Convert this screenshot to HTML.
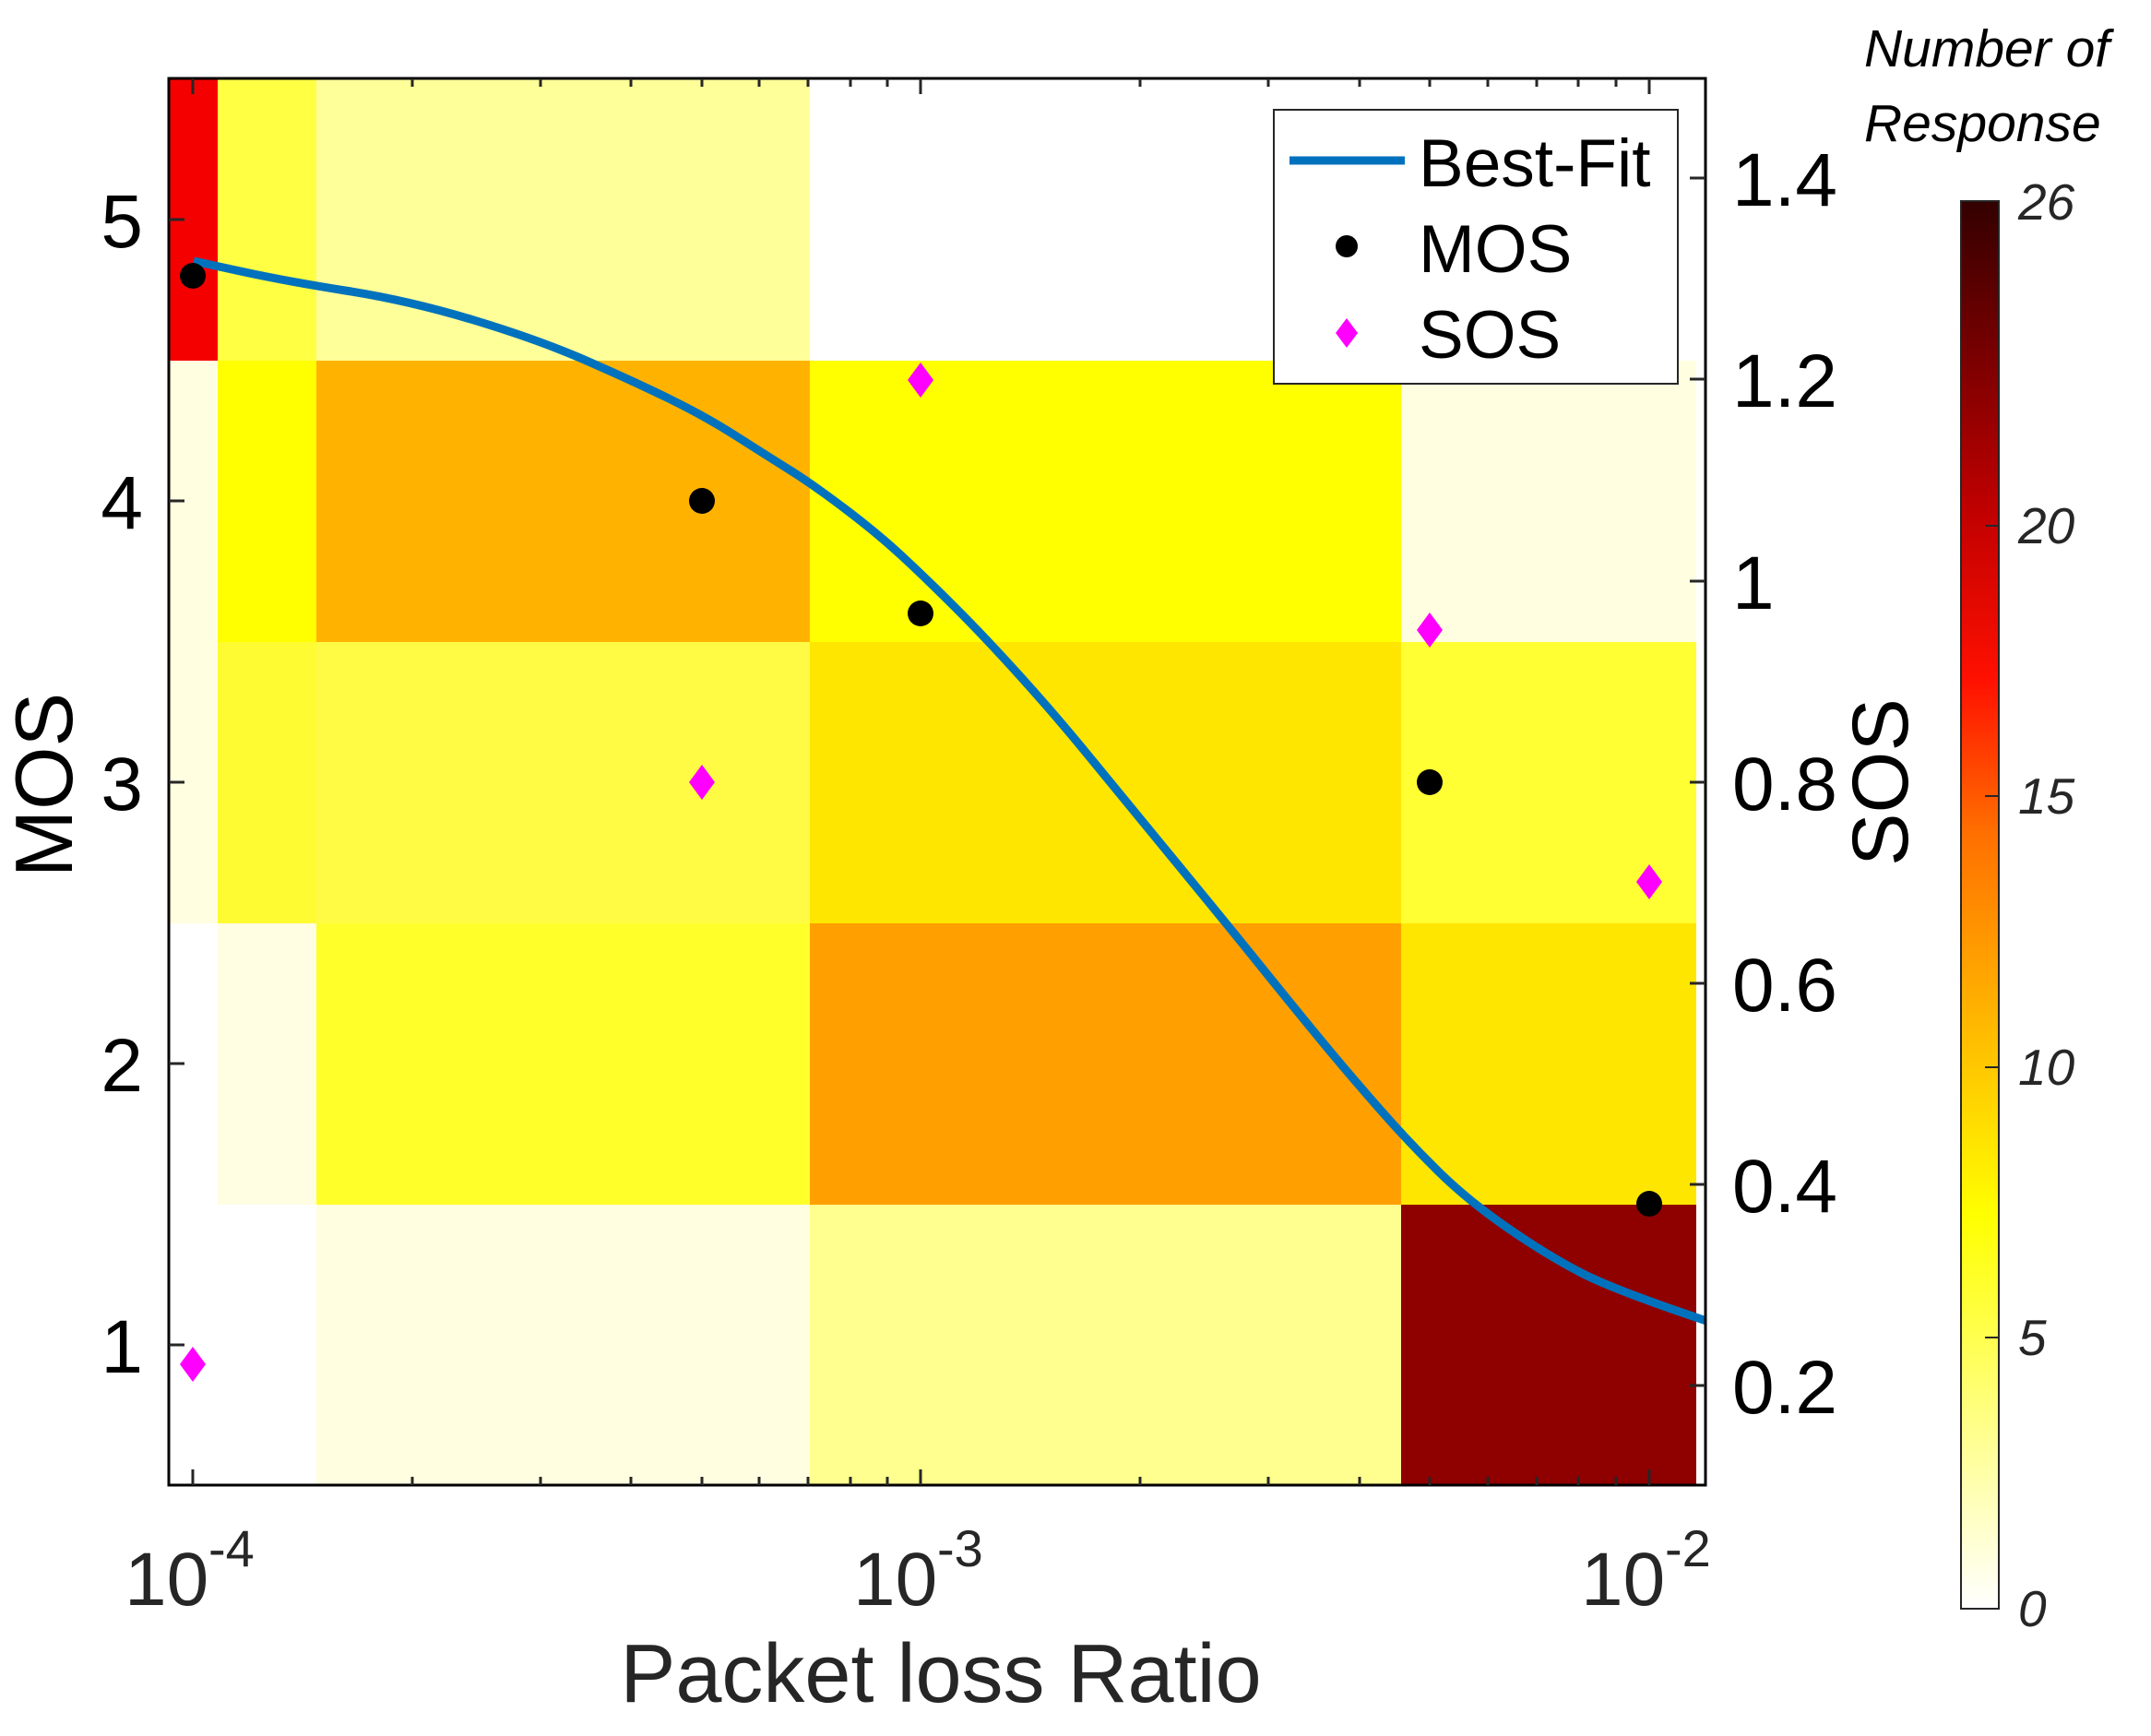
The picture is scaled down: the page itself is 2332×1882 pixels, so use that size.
<!DOCTYPE html>
<html><head><meta charset="utf-8"><style>html,body{margin:0;padding:0;background:#fff}svg{display:block}</style></head>
<body>
<svg width="2332" height="1882" viewBox="0 0 2332 1882" xmlns="http://www.w3.org/2000/svg" font-family="Liberation Sans, Arial, sans-serif">
<defs>
<linearGradient id="cb" x1="0" y1="1" x2="0" y2="0">
<stop offset="0" stop-color="#ffffff"/>
<stop offset="0.28" stop-color="#ffff00"/>
<stop offset="0.40" stop-color="#ffc000"/>
<stop offset="0.55" stop-color="#ff7000"/>
<stop offset="0.66" stop-color="#ff1000"/>
<stop offset="0.78" stop-color="#c00000"/>
<stop offset="1" stop-color="#330000"/>
</linearGradient>
<clipPath id="pc"><rect x="183" y="85" width="1666" height="1525"/></clipPath>
</defs>
<g shape-rendering="crispEdges">
<rect x="183" y="85" width="53" height="306" fill="#f40000"/>
<rect x="183" y="391" width="53" height="305" fill="#fffee0"/>
<rect x="183" y="696" width="53" height="305" fill="#fffee0"/>
<rect x="236" y="85" width="107" height="306" fill="#ffff44"/>
<rect x="236" y="391" width="107" height="305" fill="#ffff00"/>
<rect x="236" y="696" width="107" height="305" fill="#fffb33"/>
<rect x="236" y="1001" width="107" height="305" fill="#fffde2"/>
<rect x="343" y="85" width="535" height="306" fill="#ffff99"/>
<rect x="343" y="391" width="535" height="305" fill="#ffb300"/>
<rect x="343" y="696" width="535" height="305" fill="#fffb44"/>
<rect x="343" y="1001" width="535" height="305" fill="#ffff2a"/>
<rect x="343" y="1306" width="535" height="304" fill="#fffee0"/>
<rect x="878" y="391" width="641" height="305" fill="#ffff00"/>
<rect x="878" y="696" width="641" height="305" fill="#ffe600"/>
<rect x="878" y="1001" width="641" height="305" fill="#ffa000"/>
<rect x="878" y="1306" width="641" height="304" fill="#ffff8f"/>
<rect x="1519" y="391" width="320" height="305" fill="#fffee0"/>
<rect x="1519" y="696" width="320" height="305" fill="#ffff33"/>
<rect x="1519" y="1001" width="320" height="305" fill="#ffe600"/>
<rect x="1519" y="1306" width="320" height="304" fill="#8f0000"/>
</g>
<path clip-path="url(#pc)" fill="none" stroke="#0072bd" stroke-width="9" stroke-linejoin="round"
d="M210,283 L260.5,294 Q311,305 377.5,315.5 Q444,326 513.5,347 Q583,368 633.5,390 Q684,412 724,431.5 Q764,451 798.5,473 Q833,495 857,510 Q881,525 916,551.5 Q951,578 977.5,602.5 Q1004,627 1036,659 Q1068,691 1105.5,732.5 Q1143,774 1175,813 Q1207,852 1239,891 Q1271,930 1303,969 Q1335,1008 1372.5,1054.5 Q1410,1101 1436.5,1133 Q1463,1165 1495,1201.5 Q1527,1238 1559,1269.5 Q1591,1301 1633.5,1330.5 Q1676,1360 1713.5,1379.5 Q1751,1399 1853,1433"/>
<g fill="#000">
<circle cx="209" cy="299" r="14"/>
<circle cx="761" cy="543" r="14"/>
<circle cx="998" cy="665" r="14"/>
<circle cx="1550" cy="848" r="14"/>
<circle cx="1788" cy="1305" r="14"/>
</g>
<g fill="#ff00ff">
<path d="M209,1460 l14,19 l-14,19 l-14,-19z"/>
<path d="M761,829 l14,19 l-14,19 l-14,-19z"/>
<path d="M998,393 l14,19 l-14,19 l-14,-19z"/>
<path d="M1550,664 l14,19 l-14,19 l-14,-19z"/>
<path d="M1788,937 l14,19 l-14,19 l-14,-19z"/>
</g>
<rect x="183" y="85" width="1666" height="1525" fill="none" stroke="#000" stroke-width="3"/>
<g stroke="#262626" stroke-width="3">
<line x1="209" y1="1610" x2="209" y2="1593"/><line x1="209" y1="85" x2="209" y2="102"/>
<line x1="998" y1="1610" x2="998" y2="1593"/><line x1="998" y1="85" x2="998" y2="102"/>
<line x1="1788" y1="1610" x2="1788" y2="1593"/><line x1="1788" y1="85" x2="1788" y2="102"/>
<line x1="447" y1="1610" x2="447" y2="1601"/><line x1="586" y1="1610" x2="586" y2="1601"/><line x1="684" y1="1610" x2="684" y2="1601"/><line x1="761" y1="1610" x2="761" y2="1601"/><line x1="823" y1="1610" x2="823" y2="1601"/><line x1="876" y1="1610" x2="876" y2="1601"/><line x1="922" y1="1610" x2="922" y2="1601"/><line x1="962" y1="1610" x2="962" y2="1601"/>
<line x1="1236" y1="1610" x2="1236" y2="1601"/><line x1="1375" y1="1610" x2="1375" y2="1601"/><line x1="1474" y1="1610" x2="1474" y2="1601"/><line x1="1550" y1="1610" x2="1550" y2="1601"/><line x1="1613" y1="1610" x2="1613" y2="1601"/><line x1="1666" y1="1610" x2="1666" y2="1601"/><line x1="1711" y1="1610" x2="1711" y2="1601"/><line x1="1752" y1="1610" x2="1752" y2="1601"/>
<line x1="447" y1="85" x2="447" y2="94"/><line x1="586" y1="85" x2="586" y2="94"/><line x1="684" y1="85" x2="684" y2="94"/><line x1="761" y1="85" x2="761" y2="94"/><line x1="823" y1="85" x2="823" y2="94"/><line x1="876" y1="85" x2="876" y2="94"/><line x1="922" y1="85" x2="922" y2="94"/><line x1="962" y1="85" x2="962" y2="94"/>
<line x1="1236" y1="85" x2="1236" y2="94"/><line x1="1375" y1="85" x2="1375" y2="94"/><line x1="1474" y1="85" x2="1474" y2="94"/><line x1="1550" y1="85" x2="1550" y2="94"/><line x1="1613" y1="85" x2="1613" y2="94"/><line x1="1666" y1="85" x2="1666" y2="94"/><line x1="1711" y1="85" x2="1711" y2="94"/><line x1="1752" y1="85" x2="1752" y2="94"/>
<line x1="183" y1="238" x2="200" y2="238"/><line x1="183" y1="543" x2="200" y2="543"/><line x1="183" y1="848" x2="200" y2="848"/><line x1="183" y1="1153" x2="200" y2="1153"/><line x1="183" y1="1458" x2="200" y2="1458"/>
<line x1="1849" y1="193" x2="1832" y2="193"/><line x1="1849" y1="411" x2="1832" y2="411"/><line x1="1849" y1="630" x2="1832" y2="630"/><line x1="1849" y1="848" x2="1832" y2="848"/><line x1="1849" y1="1066" x2="1832" y2="1066"/><line x1="1849" y1="1284" x2="1832" y2="1284"/><line x1="1849" y1="1502" x2="1832" y2="1502"/>
</g>
<g font-size="82" fill="#000" text-anchor="end">
<text x="155" y="268">5</text><text x="155" y="573">4</text><text x="155" y="878">3</text><text x="155" y="1183">2</text><text x="155" y="1488">1</text>
</g>
<g font-size="82" fill="#000">
<text x="1878" y="223">1.4</text><text x="1878" y="441">1.2</text><text x="1878" y="660">1</text><text x="1878" y="878">0.8</text><text x="1878" y="1096">0.6</text><text x="1878" y="1314">0.4</text><text x="1878" y="1532">0.2</text>
</g>
<g font-size="82" fill="#262626">
<text x="135" y="1740">10</text><text x="226" y="1698" font-size="56">-4</text>
<text x="925" y="1740">10</text><text x="1016" y="1698" font-size="56">-3</text>
<text x="1714" y="1740">10</text><text x="1805" y="1698" font-size="56">-2</text>
</g>
<text x="1020" y="1845" font-size="90" fill="#262626" text-anchor="middle">Packet loss Ratio</text>
<text transform="translate(78,851) rotate(-90)" font-size="88" fill="#000" text-anchor="middle">MOS</text>
<text transform="translate(2068,848) rotate(-90)" font-size="86" fill="#000" text-anchor="middle">SOS</text>
<rect x="1381" y="119" width="438" height="297" fill="#fff" stroke="#262626" stroke-width="2"/>
<line x1="1398" y1="174" x2="1523" y2="174" stroke="#0072bd" stroke-width="9"/>
<circle cx="1460" cy="267" r="12" fill="#000"/>
<path d="M1460,345 l12,16 l-12,16 l-12,-16z" fill="#ff00ff"/>
<g font-size="73" fill="#000">
<text x="1538" y="202">Best-Fit</text>
<text x="1538" y="295">MOS</text>
<text x="1538" y="388">SOS</text>
</g>
<rect x="2126" y="218" width="41" height="1526" fill="url(#cb)" stroke="#262626" stroke-width="2"/>
<g stroke="#262626" stroke-width="2">
<line x1="2152" y1="1450" x2="2167" y2="1450"/><line x1="2152" y1="1157" x2="2167" y2="1157"/><line x1="2152" y1="863" x2="2167" y2="863"/><line x1="2152" y1="570" x2="2167" y2="570"/>
</g>
<g font-size="55" font-style="italic" fill="#262626">
<text x="2188" y="238">26</text>
<text x="2188" y="589">20</text>
<text x="2188" y="882">15</text>
<text x="2188" y="1176">10</text>
<text x="2188" y="1469">5</text>
<text x="2188" y="1763">0</text>
</g>
<g font-size="57" font-style="italic" fill="#000">
<text x="2021" y="72">Number of</text>
<text x="2021" y="153">Response</text>
</g>
</svg>
</body></html>
